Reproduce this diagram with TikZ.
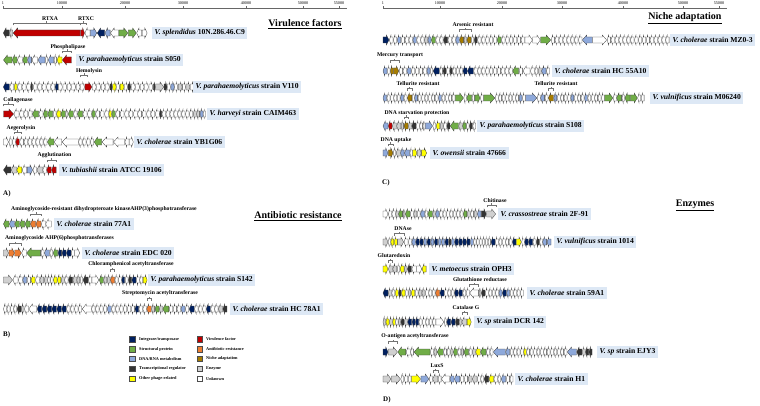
\documentclass[tikz,border=0pt]{standalone}
\usepackage{fontspec}
\setmainfont{Liberation Serif}
\definecolor{int}{HTML}{002060}
\definecolor{str}{HTML}{70AD47}
\definecolor{dna}{HTML}{8EA9DB}
\definecolor{reg}{HTML}{333333}
\definecolor{pha}{HTML}{FFFF00}
\definecolor{vir}{HTML}{C00000}
\definecolor{abr}{HTML}{ED7D31}
\definecolor{nic}{HTML}{A67C00}
\definecolor{enz}{HTML}{D0D0D0}
\definecolor{unk}{HTML}{FFFFFF}
\definecolor{boxblue}{HTML}{DDE8F5}
\tikzset{
  gene/.style={draw=black!75,line width=0.3pt},
  strain/.style={fill=boxblue,anchor=west,inner xsep=2.5pt,inner ysep=0pt,minimum height=12.5pt,font=\fontsize{7.6}{8}\selectfont\bfseries},
  note/.style={inner sep=0pt,font=\fontsize{5.7}{6}\selectfont\bfseries},
  brack/.style={draw=black!55,line width=0.4pt},
  title/.style={inner sep=0pt,font=\fontsize{10}{12}\selectfont\bfseries},
  panel/.style={inner sep=0pt,anchor=west,font=\fontsize{7}{8}\selectfont\bfseries},
  tick/.style={inner sep=0pt,font=\fontsize{4.2}{5}\selectfont},
  keybox/.style={draw=black!70,line width=0.3pt,minimum size=5.5pt,inner sep=0pt},
  keytext/.style={inner sep=0pt,anchor=west,font=\fontsize{4.3}{5}\selectfont\bfseries}
}
\newcommand\genes[3]{%
  \xdef\gnx{#1}%
  \foreach \glen/\gcol/\gdir in {#3}{%
    \pgfmathsetmacro\gna{\gnx}%
    \pgfmathsetmacro\gnb{\gnx+\glen}%
    \pgfmathsetmacro\gnk{min(0.45*\glen,4.5)}%
    \ifnum\gdir=1
      \pgfmathsetmacro\gnm{\gnb-\gnk}%
      \draw[gene,fill=\gcol] (\gna,#2-3) -- (\gnm,#2-3) -- (\gnm,#2-5) -- (\gnb,#2) -- (\gnm,#2+5) -- (\gnm,#2+3) -- (\gna,#2+3) -- cycle;
    \else
      \pgfmathsetmacro\gnm{\gna+\gnk}%
      \draw[gene,fill=\gcol] (\gnb,#2-3) -- (\gnm,#2-3) -- (\gnm,#2-5) -- (\gna,#2) -- (\gnm,#2+5) -- (\gnm,#2+3) -- (\gnb,#2+3) -- cycle;
    \fi
    \pgfmathsetmacro\gnn{\gnb+0.4}%
    \xdef\gnx{\gnn}%
  }%
}
\newcommand\genebrace[3]{%
  \draw[brack] (#1,#3+2.5) -- (#1,#3) -- (#2,#3) -- (#2,#3+2.5);
  \draw[brack] ({(#1+#2)/2},#3) -- ({(#1+#2)/2},#3-1.5);
}
\begin{document}
\begin{tikzpicture}[x=1pt,y=-1pt]
\useasboundingbox (0,0) rectangle (760,406);
\fill[white] (0,0) rectangle (760,406);

\draw[black!60,line width=0.4pt] (3,8) -- (347,8);
\foreach \x/\t in {3/1,62/10000,125/20000,183/30000,246/40000,303/50000,339/55000}{
  \draw[black!60,line width=0.4pt] (\x,8) -- (\x,6.3);
  \node[tick] (rl-\t) at (\x,3.5) {\t};
}
\draw[black!60,line width=0.4pt] (383,8) -- (727,8);
\foreach \x/\t in {383/1,440/10000,502/20000,562/30000,623/40000,683/50000,719/55000}{
  \draw[black!60,line width=0.4pt] (\x,8) -- (\x,6.3);
  \node[tick] (rr-\t) at (\x,3.5) {\t};
}

\node[title] (virtitle) at (305,24) {\underline{Virulence factors}};
\genes{3.3}{33}{6/reg/0,3/enz/0,67/vir/0,4/vir/1,5/unk/0,6.5/dna/1,7.5/int/0,5/dna/0,8/unk/0,9/str/1,8/str/1,5/unk/0,5/unk/1}
\node[strain] (splend) at (152,33) {\textit{V. splendidus} 10N.286.46.C9};
\genebrace{13.1}{80.1}{23}
\node[note] (rtxa) at (50,19) {RTXA};
\genebrace{80.5}{86}{23}
\node[note] (rtxc) at (86,19) {RTXC};

\genes{3.5}{60}{8.5/str/0,4.5/str/0,5/unk/0,4.5/str/0,4/dna/0,5.5/unk/0,7/dna/0,2.5/unk/0,5.5/dna/0,2.5/unk/0,5/pha/0,9/vir/0}
\node[strain] (s050) at (76,60) {\textit{V. parahaemolyticus} strain S050};
\genebrace{62.4}{71.4}{51}
\node[note] (phosph) at (68,47) {Phospholipase};

\genes{3.3}{87}{6/int/0,4/unk/0,3/pha/0,4/unk/0,4/unk/0,4/unk/0,2/reg/0,4/unk/0,4/unk/0,4/unk/0,4/unk/0,4/unk/0,3/int/0,4/unk/1,4/unk/1,4/unk/1,4/unk/1,4/unk/1,4/unk/1,7/vir/1,4/unk/1,4/unk/1,4/unk/1,4/unk/1,2.5/reg/1,3.5/pha/1,3/unk/1,4/pha/1,3/unk/1,3/reg/1,4/unk/1,4/unk/1,4/unk/1,4/unk/1,4/unk/1,2/reg/1,8/enz/1,3/reg/1,3/unk/1,3.5/dna/1,3/unk/1,4/enz/1,3/unk/1,4/enz/1,3.5/unk/1}
\node[strain] (v110) at (193,87) {\textit{V. parahaemolyticus} strain V110};
\genebrace{80.5}{87.5}{75}
\node[note] (hemol) at (89,71) {Hemolysin};

\genes{3.5}{114}{10/vir/1,5/unk/0,4/unk/0,4/unk/0,4/unk/0,6/str/0,4/unk/0,4/str/0,5/str/0,3/unk/0,4/pha/0,4.5/str/0,2/unk/0,5/str/0,3.5/unk/0,5/str/0,4/unk/0,4/unk/0,3.5/str/0,4/unk/0,4/unk/0,4/unk/0,2.5/pha/0,3.5/str/0,4/unk/0,4/unk/0,4/unk/0,4/unk/0,4/unk/0,4/unk/0,4/unk/0,4/unk/0,4/unk/0,4/unk/0,2/reg/0,3.5/unk/0,3.5/unk/0,3.5/unk/0,3.5/unk/0,3.5/unk/0,3.5/unk/0,3.5/unk/0,3.5/unk/0,3/enz/0,3/enz/0,3/dna/0,2/unk/0}
\node[strain] (caim) at (207,114) {\textit{V. harveyi} strain CAIM463};
\genebrace{3.5}{13.5}{104}
\node[note] (collag) at (18,100) {Collagenase};

\genes{3.5}{142}{5/unk/1,3/unk/0,3/unk/0,3.5/vir/0,4/unk/0,3.5/unk/0,3.5/unk/0,3.5/unk/0,3.5/unk/0,3.5/unk/0,3.5/unk/0,6.5/str/0,7.5/unk/0,16/unk/0,3.5/unk/0,3.5/unk/0,3.5/unk/0,3.5/unk/0,7.5/str/0,11/unk/0,11/unk/0,4/unk/0,4/unk/1}
\node[strain] (yb1g06) at (134,142) {\textit{V. cholerae} strain YB1G06};
\genebrace{14}{21}{132}
\node[note] (aegero) at (21,128) {Aegerolysin};

\genes{3.5}{170}{7.5/reg/0,5/enz/0,5/pha/0,4.5/unk/0,5.5/dna/1,3.5/unk/0,5.5/enz/0,3.5/unk/0,4.5/vir/0,4.5/vir/0}
\node[strain] (atcc) at (59,170) {\textit{V. tubiashii} strain ATCC 19106};
\genebrace{46.7}{56.1}{160}
\node[note] (agglut) at (54.5,155.5) {Agglutination};
\node[panel] (pa) at (3,194) {A)};

\node[title] (abrtitle) at (298,216) {\underline{Antibiotic resistance}};
\genes{3.5}{224}{5.5/str/0,5/dna/0,4.5/str/0,5/str/0,5/str/0,5/abr/0,5/abr/0,4/unk/0,5.5/unk/0}
\node[strain] (a77) at (54,224) {\textit{V. cholerae} strain 77A1};
\genebrace{30.5}{40.9}{214}
\node[note] (dihyd) at (104,209.5) {Aminoglycoside-resistant dihydropteroate kinaseAHP(3)phosphotransferase};

\genes{3.5}{253}{5/enz/1,5.5/abr/1,6.5/abr/1,4.5/unk/0,14/str/0,3/unk/0,5/dna/0,3/unk/0,4.5/str/0,3.5/int/0,4/int/0,4.5/int/0,3/unk/0,5/unk/1}
\node[strain] (edc) at (82,253) {\textit{V. cholerae} strain EDC 020};
\genebrace{8.9}{21.3}{243}
\node[note] (ahp6) at (59.5,238.5) {Aminoglycoside AHP(6)phosphotransferases};

\genes{3.5}{280}{9/enz/1,5/unk/0,4/unk/0,4/dna/0,3.5/unk/0,4/pha/0,4/unk/0,4/enz/0,3/enz/0,2.5/unk/0,2.5/unk/0,3.5/pha/0,3.5/pha/0,3/enz/0,3.5/unk/0,4/reg/0,3.5/enz/0,3/enz/0,2.5/unk/0,5/reg/0,3/unk/0,7/unk/1,4/str/0,3/enz/0,3/enz/0,4/abr/0,3/unk/0,3/unk/0,3/int/0,3/unk/0,3/reg/0,4/int/0,3/unk/0,3/unk/0,4/pha/1}
\node[strain] (s142) at (148,280) {\textit{V. parahaemolyticus} strain S142};
\genebrace{110.5}{114.5}{269}
\node[note] (chlor) at (131,264.5) {Chloramphenicol acetyltransferase};

\genes{3.5}{309}{3/unk/0,3/unk/0,3/unk/0,3/unk/0,4/reg/0,2.5/enz/0,4/unk/0,8/unk/0,4.5/int/0,4.5/int/0,4.5/int/0,4.5/int/0,4.5/int/0,4.5/int/0,3.5/unk/0,3.5/unk/0,3.5/unk/0,3.5/unk/0,9/unk/0,3.5/unk/0,3.5/unk/0,3.5/unk/0,3.5/unk/0,4/dna/0,3.5/unk/0,3.5/unk/0,3.5/unk/0,3.5/unk/0,3.5/unk/0,3.5/unk/0,3.5/int/0,3.5/unk/0,3.5/unk/0,4.5/abr/0,3/enz/0,4/str/0,3/enz/0,6/str/0,3.5/unk/0,3.5/unk/0,3.5/unk/0,4/dna/0,3.5/unk/0,5/int/0,3.5/unk/0,3.5/unk/0,3.5/unk/0,4/int/0,3.5/unk/0,3.5/unk/0,4/enz/0,4/reg/0}
\node[strain] (hc78) at (230,309) {\textit{V. cholerae} strain HC 78A1};
\genebrace{146.7}{151.2}{298}
\node[note] (strep) at (160,293.5) {Streptomycin acetyltransferase};
\node[panel] (pb) at (3,335) {B)};

\foreach \y/\c/\t [count=\i] in {339.3/int/{Integrase/transposase},349/str/{Structural protein},358.7/dna/{DNA/RNA metabolism},368.7/reg/{Transcriptional regulator},378.7/pha/{Other phage-related}}{
  \node[keybox,fill=\c] (kl\i) at (132,\y) {};
  \node[keytext] (klt\i) at (139,\y) {\t};
}
\foreach \y/\c/\t [count=\i] in {339.3/vir/{Virulence factor},349/abr/{Antibiotic resistance},358.7/nic/{Niche adaptation},368.7/enz/{Enzyme},378.7/unk/{Unknown}}{
  \node[keybox,fill=\c] (kr\i) at (199.5,\y) {};
  \node[keytext] (krt\i) at (206,\y) {\t};
}

\node[title] (nictitle) at (685,18.5) {\underline{Niche adaptation}};
\genes{383}{40}{6/int/1,3.5/unk/0,3.5/unk/0,3.5/dna/0,3.5/unk/0,3.5/unk/0,3.5/unk/0,3.5/dna/0,3.5/unk/0,3.5/unk/0,3/enz/0,3/dna/0,4/str/0,3.5/unk/0,3.5/unk/0,4/reg/0,3.5/unk/0,3.5/unk/0,3.5/dna/0,4/nic/0,2.5/enz/0,4/nic/0,2.5/unk/0,3/reg/0,3.5/unk/0,3.5/unk/0,3.5/unk/0,3.5/unk/0,3.5/unk/0,4/str/0,3.5/unk/0,3.5/unk/0,3.5/unk/0,3.5/unk/0,3.5/unk/0,3.5/unk/0,7.5/unk/1,7.5/unk/1,10/str/1,3.5/unk/0,3.5/unk/0,3.5/unk/0,3.5/unk/0,3.5/unk/0,3.5/unk/0,3.5/unk/0,3.5/unk/0,10/dna/0,14/unk/1,3.5/unk/0,3.5/unk/0,3.5/unk/0,3.5/unk/0,3.5/unk/0,3.5/unk/0,3.5/unk/0,3.5/unk/0,3.5/unk/0,3.5/unk/0,3.5/unk/0,3.5/unk/0,3.5/unk/0,3.5/unk/0,3.5/unk/0,3.5/unk/0}
\node[strain] (mz03) at (670,40) {\textit{V. cholerae} strain MZ0-3};
\genebrace{459.6}{470.9}{29.5}
\node[note] (arsen) at (473,24.5) {Arsenic resistant};

\genes{383}{71}{4/dna/0,2.5/unk/0,3/nic/0,5/nic/1,3.5/unk/0,3.5/unk/0,4/dna/0,3.5/unk/0,3.5/unk/0,3.5/unk/0,3.5/unk/0,3/dna/0,2.5/unk/0,6/int/0,3/unk/0,3/reg/0,3/unk/0,2.5/reg/0,3/unk/0,3/unk/0,3/unk/0,4/int/0,6/int/0,3.5/unk/0,3.5/unk/0,3.5/unk/0,3.5/unk/0,3.5/unk/0,3.5/unk/0,3.5/unk/0,3.5/unk/0,3.5/unk/0,3.5/unk/0,6/str/0,3.5/unk/0,7/unk/0,4/unk/0,3/unk/0,3/enz/0,4.5/dna/0,3/unk/0}
\node[strain] (hc55) at (552,71) {\textit{V. cholerae} strain HC 55A10};
\genebrace{390.3}{398.7}{60.5}
\node[note] (mercur) at (400,55.5) {Mercury transport};

\genes{383}{98}{3.5/dna/0,3/unk/0,3/unk/0,3/unk/0,3/unk/0,3/dna/0,3/unk/0,4.5/nic/0,2/unk/0,3/dna/0,3/unk/0,3/unk/0,3/unk/0,3/unk/0,3/unk/0,3/unk/0,3/dna/0,3/unk/0,3/unk/0,3/unk/0,3/unk/0,8/str/1,2.5/unk/0,5/str/0,2.5/unk/0,5/str/1,3/unk/0,11/str/1,3/unk/0,3/unk/0,3/unk/0,3/unk/0,3/unk/0,3/unk/0,3/unk/0,3/dna/0,3/unk/0,11/dna/1,3/unk/0,4/dna/0,3/unk/0,5/nic/0,3/dna/0,3/unk/0,3/unk/0,3/unk/0,3/unk/0,3/dna/0,3/unk/0,3/unk/0,3/unk/0,3/dna/0,3/unk/0,3/unk/0,3/unk/0,3/unk/0,3/unk/0,8/str/1,3/unk/0,5/str/0,2.5/unk/0,5/str/0,7/str/1,3/unk/0,3/unk/0}
\node[strain] (m06240) at (650,98) {\textit{V. vulnificus} strain M06240};
\genebrace{407.3}{411.8}{88.5}
\node[note] (tell1) at (418,84) {Tellurite resistant};
\genebrace{548.4}{553.4}{88.5}
\node[note] (tell2) at (556,84) {Tellurite resistant};

\genes{383}{126}{5/dna/0,3.5/vir/0,4/enz/0,4/enz/0,2.5/enz/0,4/nic/0,3/enz/0,4/reg/0,3/unk/0,3/unk/0,2/unk/0,7/dna/1,3/unk/0,3.5/pha/0,3/enz/0,3/unk/0,3/reg/0,8/str/0,3.5/enz/0,3.5/str/0,2.5/unk/0,3/reg/0,3/unk/0}
\node[strain] (s108) at (477,126) {\textit{V. parahaemolyticus} strain S108};
\genebrace{404}{408}{117}
\node[note] (starv) at (417,113) {DNA starvation protection};

\genes{383}{153}{5/dna/1,4.5/nic/1,2.5/unk/0,4/enz/0,3.5/dna/0,5/dna/0,2.5/unk/0,4/pha/1,4/enz/1,5/pha/1}
\node[strain] (ow47) at (430,153) {\textit{V. owensii} strain 47666};
\genebrace{388.4}{392.9}{144}
\node[note] (uptake) at (396,140) {DNA uptake};
\node[panel] (pc) at (382,183) {C)};

\node[title] (enztitle) at (695,205) {\underline{Enzymes}};
\genes{383}{214}{5/unk/1,3/unk/0,3.5/unk/0,2.5/enz/0,4/str/0,2/enz/0,4.5/str/0,3/unk/0,3/enz/0,3/unk/0,4/dna/0,2.5/unk/0,4.5/str/0,2.5/enz/0,3.5/dna/0,3/unk/0,3/unk/0,3/unk/0,3/unk/0,3/unk/0,3/unk/0,3/unk/0,3.5/str/0,3/enz/0,3/unk/0,3/enz/0,3.5/dna/0,5/reg/1,9/enz/1}
\node[strain] (f91) at (498,214) {\textit{V. crassostreae} strain 2F-91};
\genebrace{486.7}{495.7}{205}
\node[note] (chitin) at (495,200.5) {Chitinase};

\genes{383}{242}{5/enz/1,2/unk/0,3/pha/0,3/pha/0,6/enz/1,4/unk/0,3/unk/0,3.5/dna/0,3.5/int/0,3.5/int/0,3/dna/0,3.5/int/0,3/dna/0,3.5/int/0,3/dna/0,3/dna/0,3.5/int/0,2/reg/0,3/dna/0,3.5/int/0,3.5/int/0,3.5/int/0,3.5/int/0,3/dna/0,2.5/unk/0,2.5/unk/0,2.5/unk/0,2.5/unk/0,2.5/unk/0,2.5/unk/0,4/int/0,3/unk/0,3/unk/0,3/unk/0,3/unk/0,3/unk/0,3.5/int/0,5/pha/1,2.5/unk/0,3.5/int/0,4/int/0,3/unk/0,3/reg/0,2.5/unk/0,4/dna/0,4/dna/0}
\node[strain] (v1014) at (554,242) {\textit{V. vulnificus} strain 1014};
\genebrace{394}{404}{233}
\node[note] (dnase) at (403,228.5) {DNAse};

\genes{383}{269}{5/pha/1,4/enz/0,4/enz/0,2.5/unk/0,4/pha/0,2.5/enz/0,4/reg/0,4.5/unk/0,5/unk/1,4/pha/0}
\node[strain] (oph3) at (429,269) {\textit{V. metoecus} strain OPH3};
\genebrace{388.4}{392.4}{260}
\node[note] (glutar) at (394,255.5) {Glutaredoxin};

\genes{383}{293}{5/int/0,3/enz/0,3/unk/0,3/pha/0,2.5/reg/0,3.5/pha/0,2.5/unk/0,2.5/enz/0,3.5/pha/0,3/unk/0,3/enz/0,3/enz/0,3/unk/0,3/unk/0,3/unk/0,4/abr/0,4/int/0,3/unk/0,3/unk/0,3/unk/0,3.5/int/0,4/int/0,3/unk/0,3/unk/0,9/unk/0,2/enz/0,3.5/reg/0,3/unk/0,3/unk/0,3/unk/0,3/unk/0,3/dna/0,4/int/0,3/dna/0,3/unk/0,3/unk/0,3/unk/0,3/unk/0}
\node[strain] (a59) at (527,293) {\textit{V. cholerae} strain 59A1};
\genebrace{469.6}{478.6}{284}
\node[note] (glutath) at (480,279.5) {Glutathione reductase};

\genes{383}{322}{2.5/enz/0,3/pha/0,3/enz/0,2.5/pha/0,2.5/unk/0,2/enz/0,3/reg/0,3/enz/0,4/int/0,3/int/0,3/int/0,3/unk/0,3/unk/0,3/unk/0,3/unk/0,3/unk/0,8/unk/1,2/unk/0,4/int/0,4/int/0,3.5/reg/0,2/enz/0,5/enz/0,4/pha/1}
\node[strain] (dcr) at (474,322) {\textit{V. sp} strain DCR 142};
\genebrace{461.8}{466.8}{312}
\node[note] (catal) at (466,307.5) {Catalase G};

\genes{383}{352}{5/int/1,9/enz/1,8/str/0,4/unk/0,3/unk/0,16/str/0,3/unk/0,3/enz/0,6/str/0,3/unk/0,3/unk/0,2.5/enz/0,4/str/0,3/unk/0,2.5/enz/0,4.5/str/0,3/unk/0,3/enz/0,4.5/pha/0,5.5/str/0,3/unk/0,3/unk/0,12/dna/0,4/dna/0,3/unk/0,3/unk/0,3/unk/0,3/unk/0,2.5/pha/0,3/unk/0,3/unk/0,3/unk/0,3/unk/0,3/unk/0,3/unk/0,3/unk/0,3/unk/0,3/unk/0,3/unk/0,3/unk/0,3/unk/0,9/dna/0,5/reg/0,3/enz/0,3/reg/0,3/reg/0}
\node[strain] (ejy3) at (597,352) {\textit{V. sp} strain EJY3};
\genebrace{388.4}{397.4}{341}
\node[note] (oanti) at (415,336.5) {O-antigen acetyltransferase};

\genes{383}{379}{8/enz/1,9/enz/1,3/unk/0,3.5/unk/0,3/unk/0,9/pha/1,8/dna/1,3/unk/0,5/enz/0,3/unk/0,8/unk/0,4/dna/0,5.5/dna/0,3.5/unk/0,3.5/unk/0,4/enz/0,4.5/enz/0,3/unk/0,3/unk/0,4.5/reg/0,4.5/pha/0,3.5/unk/0,3/unk/0,4.5/dna/0,3.5/unk/0,3/unk/0}
\node[strain] (h1) at (515,379) {\textit{V. cholerae} strain H1};
\genebrace{432.7}{437.7}{370.5}
\node[note] (luxs) at (437,366) {LuxS};
\node[panel] (pd) at (383,400) {D)};
\end{tikzpicture}
\end{document}
